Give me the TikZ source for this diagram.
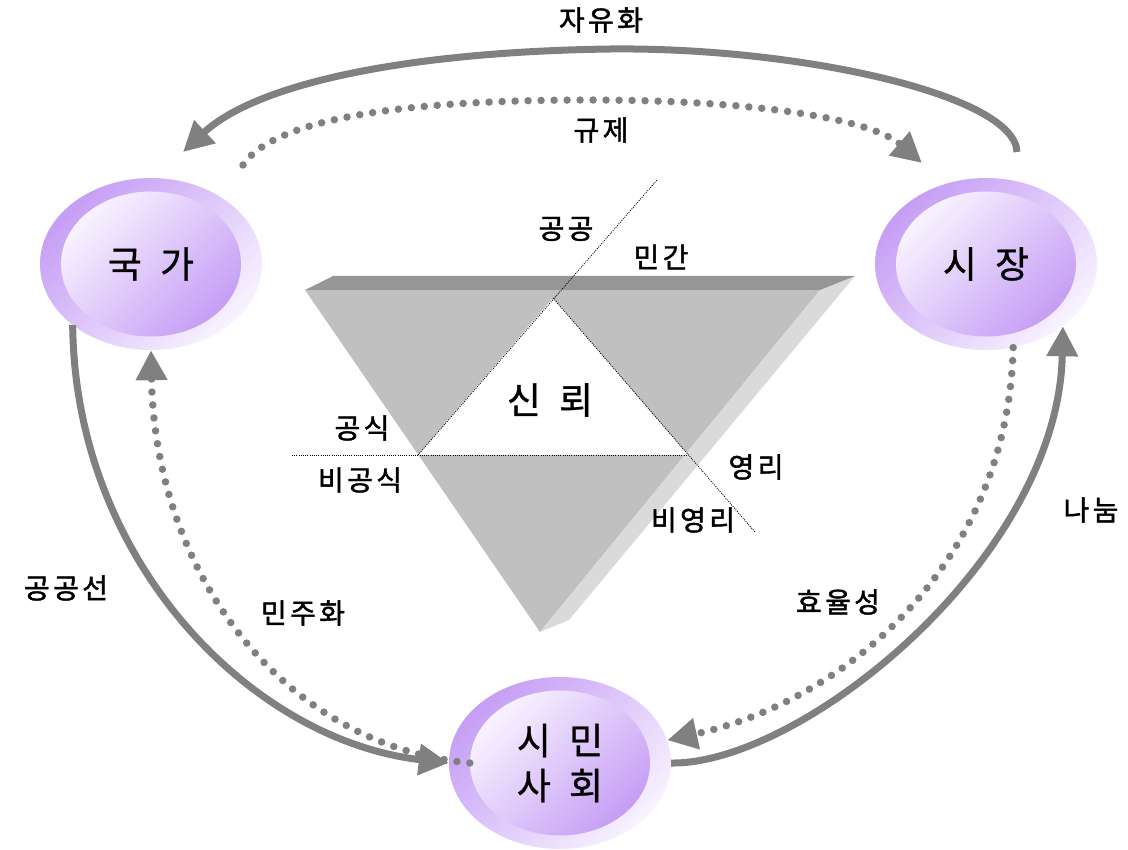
\documentclass[tikz,border=0pt]{standalone}
\usepackage{fontspec}
\usetikzlibrary{arrows.meta, positioning, shapes.geometric}
\newfontfamily\kr[WordSpace=2.2, FakeBold=0.8]{Noto Sans CJK KR}
\newfontfamily\krlbl[LetterSpace=12, FakeBold=1.6]{Noto Sans CJK KR}
\definecolor{lilac}{HTML}{C69EF5}
\definecolor{paleLilac}{HTML}{F8F3FF}
\definecolor{arrowGray}{HTML}{808080}
\definecolor{bandGray}{HTML}{969696}
\definecolor{faceGray}{HTML}{C0C0C0}
\definecolor{sideGray}{HTML}{DADADA}
\def\bigfont{\fontsize{37}{45}\selectfont}
\def\labelfont{\fontsize{28}{30}\selectfont}

\begin{document}
\begin{tikzpicture}[x=1pt,y=-1pt]
    \tikzstyle{outer disc}=[ellipse, minimum width=222pt, minimum height=172pt, inner sep=0pt,
        top color=lilac, bottom color=paleLilac, shading angle=45]
    \tikzstyle{inner disc}=[ellipse, minimum width=180pt, minimum height=145pt, inner sep=0pt,
        top color=paleLilac, bottom color=lilac, shading angle=45, font=\kr\bigfont, align=center]
    \tikzstyle{lbl}=[font=\krlbl\labelfont, inner sep=0pt]
    \tikzstyle{flow}=[draw=arrowGray, line width=7pt, -{Triangle[length=30pt,width=30pt]}]
    \tikzstyle{dotflow}=[flow, line width=7.5pt, line cap=round, dash pattern=on 0pt off 13pt]
    \tikzstyle{split}=[draw=black, line width=0.8pt, dash pattern=on 1pt off 1.2pt]

    \useasboundingbox (0,0) rectangle (1128,850);

    % Draw the inverted prism
    \fill[faceGray] (305,290) -- (820,290) -- (540,632) -- cycle;
    \fill[sideGray] (820,290) -- (855,276) -- (569,620) -- (540,632) -- cycle;
    \fill[bandGray] (305,290) -- (333,276) -- (855,276) -- (820,290) -- cycle;
    \fill[white] (418,455) -- (553,298) -- (688,455) -- cycle;

    % Dotted split lines
    \draw[split] (418,455) -- (657,180);
    \draw[split] (553,298) -- (755,532);
    \draw[split] (292,455) -- (688,455);

    \node[font=\kr\bigfont, inner sep=0pt] (trust) at (550,400) {신 뢰};

    % Draw the three actor discs
    \foreach \name/\x/\y/\txt in {state/151/264/국 가, market/986/264/시 장, civil/560/763/{시 민\\사 회}}{
        \node[outer disc] (\name) at (\x,\y) {};
        \node[inner disc] (\name-in) at (\x,\y) {\txt};
    }

    % Labels
    \node[lbl] (public) at (566,229) {공공};
    \node[lbl] (private) at (661,257) {민간};
    \node[lbl] (formal) at (362,428) {공식};
    \node[lbl] (informal) at (360,480) {비공식};
    \node[lbl] (profit) at (756,467) {영리};
    \node[lbl] (nonprofit) at (693,520) {비영리};
    \node[lbl] (liberal) at (601,20) {자유화};
    \node[lbl] (regul) at (601,130) {규제};
    \node[lbl] (commons) at (66,588) {공공선};
    \node[lbl] (democ) at (303,613) {민주화};
    \node[lbl] (effic) at (838,602) {효율성};
    \node[lbl] (share) at (1091,510) {나눔};

    % Free ends of the top arcs
    \coordinate (lib-start) at (1017,152);
    \coordinate (lib-end) at (183,152);
    \coordinate (reg-start) at (243,165);
    \coordinate (reg-end) at (922,163);

    % Connect the discs
    \draw[dotflow] (reg-start) .. controls (280,110) and (450,100) .. (590,100)
        .. controls (750,100) and (870,118) .. (reg-end);
    \draw[flow] (lib-start) .. controls (1015,95) and (800,47) .. (610,49)
        .. controls (400,52) and (255,85) .. (lib-end);
    \draw[dotflow] (civil-in.west) .. controls (280,745) and (155,570) .. (state.south);
    \draw[flow] (state.218) .. controls (75,560) and (250,740) .. (civil.west);
    \draw[dotflow] (market.-72) .. controls (1008,560) and (850,700) .. (civil.12);
    \draw[flow] (civil.east) .. controls (800,765) and (1058,560) .. (market.-39);
\end{tikzpicture}
\end{document}
